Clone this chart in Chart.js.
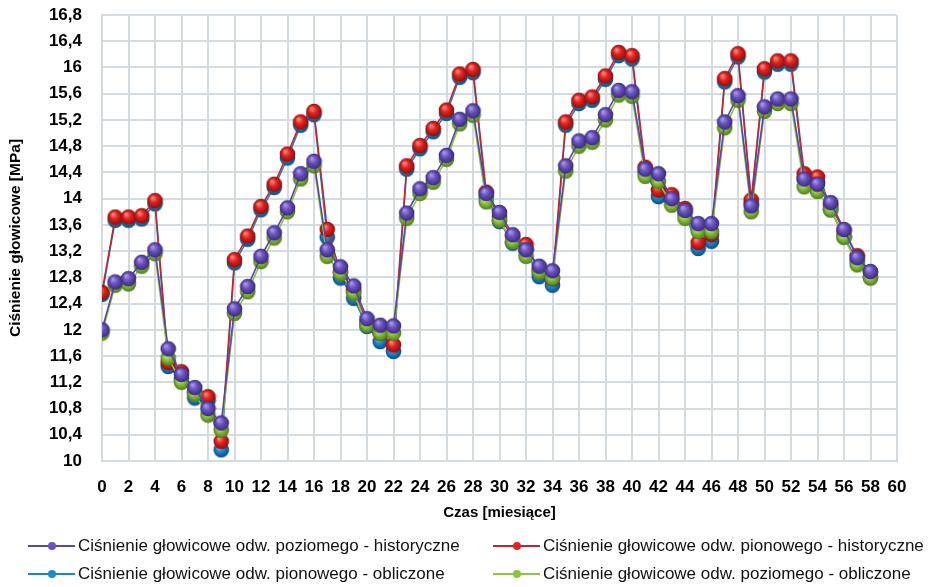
<!DOCTYPE html>
<html>
<head>
<meta charset="utf-8">
<script src="https://cdn.jsdelivr.net/npm/chart.js@4.4.1/dist/chart.umd.min.js"></script>
<style>
  body { margin: 0; background: #fff; }
  #wrap { position: relative; width: 937px; height: 587px; }
  #legend { position: absolute; left: 0; top: 0; width: 937px; height: 587px; pointer-events: none;
            font-family: 'Liberation Sans', Arial, sans-serif; font-size: 17px; color: #111; }
  .item { position: absolute; height: 20px; line-height: 20px; white-space: nowrap; }
  .mark { position: absolute; top: 9px; left: 0; width: 47px; height: 2px; }
  .dot { position: absolute; top: -3px; left: 20px; width: 8px; height: 8px; border-radius: 50%; }
  .txt { position: absolute; left: 50px; top: 0; }
</style>
</head>
<body>
<div id="wrap">
  <canvas id="chart" width="937" height="587"></canvas>
  <div id="legend"></div>
</div>
<script>
// miesiące (oś X)
const months = [0, 1, 2, 3, 4, 5, 6, 7, 8, 9, 10, 11, 12, 13, 14, 15, 16, 17, 18, 19,
  20, 21, 22, 23, 24, 25, 26, 27, 28, 29, 30, 31, 32, 33, 34, 35, 36, 37, 38, 39,
  40, 41, 42, 43, 44, 45, 46, 47, 48, 49, 50, 51, 52, 53, 54, 55, 56, 57, 58];

// odwiert poziomy - historyczne
const poziomyHist = [12.0, 12.73, 12.78, 13.03, 13.22, 11.71, 11.32, 11.12, 10.8, 10.58,
  12.32, 12.66, 13.12, 13.48, 13.86, 14.38, 14.57, 13.22, 12.96, 12.67,
  12.17, 12.07, 12.06, 13.78, 14.15, 14.32, 14.66, 15.21, 15.34, 14.08,
  13.79, 13.45, 13.22, 12.97, 12.9, 14.5, 14.88, 14.93, 15.28, 15.65,
  15.63, 14.45, 14.38, 14.0, 13.82, 13.62, 13.62, 15.17, 15.57, 13.89,
  15.4, 15.52, 15.52, 14.3, 14.22, 13.94, 13.53, 13.1, 12.89];

// odwiert pionowy - historyczne
const pionowyHist = [12.57, 13.72, 13.72, 13.74, 13.97, 11.5, 11.36, 11.05, 10.98, 10.3,
  13.07, 13.43, 13.88, 14.22, 14.68, 15.17, 15.33, 13.53, 12.88, 12.6,
  12.12, 11.95, 11.77, 14.5, 14.81, 15.07, 15.35, 15.9, 15.97, 14.1,
  13.72, 13.42, 13.3, 12.9, 12.78, 15.17, 15.5, 15.55, 15.87, 16.23,
  16.18, 14.48, 14.13, 14.06, 13.85, 13.33, 13.45, 15.83, 16.21, 13.98,
  15.98, 16.1, 16.1, 14.38, 14.33, 13.9, 13.5, 13.13, 12.87];

// odwiert pionowy - obliczone
const pionowyObl = [12.54, 13.67, 13.67, 13.69, 13.92, 11.44, 11.25, 10.96, 10.92, 10.17,
  13.02, 13.38, 13.83, 14.17, 14.62, 15.12, 15.28, 13.41, 12.79, 12.48,
  12.05, 11.82, 11.67, 14.45, 14.76, 15.02, 15.3, 15.85, 15.92, 14.03,
  13.65, 13.32, 13.22, 12.81, 12.68, 15.12, 15.45, 15.5, 15.82, 16.18,
  16.13, 14.4, 14.03, 13.98, 13.78, 13.24, 13.35, 15.78, 16.16, 13.92,
  15.93, 16.05, 16.05, 14.3, 14.25, 13.83, 13.42, 13.05, 12.8];

// odwiert poziomy - obliczone
const poziomyObl = [11.95, 12.68, 12.7, 12.97, 13.16, 11.57, 11.2, 11.02, 10.7, 10.47,
  12.25, 12.58, 13.04, 13.4, 13.8, 14.3, 14.5, 13.12, 12.86, 12.56,
  12.07, 11.95, 11.95, 13.7, 14.08, 14.25, 14.6, 15.14, 15.27, 13.95,
  13.67, 13.34, 13.12, 12.88, 12.79, 14.42, 14.8, 14.86, 15.2, 15.58,
  15.56, 14.34, 14.26, 13.9, 13.7, 13.5, 13.5, 15.08, 15.5, 13.8,
  15.33, 15.45, 15.45, 14.18, 14.11, 13.83, 13.41, 12.99, 12.79];

const seriesNames = [
  'Ciśnienie głowicowe odw. poziomego - historyczne',
  'Ciśnienie głowicowe odw. pionowego - historyczne',
  'Ciśnienie głowicowe odw. pionowego - obliczone',
  'Ciśnienie głowicowe odw. poziomego - obliczone'
];
const lineColors = ['#5a46a3', '#c0262e', '#1f84c4', '#8cc443'];
const ballColors = [
  ['#a99be6', '#6a52c0', '#3a2a7a'],
  ['#ff8a80', '#e3231f', '#8a1010'],
  ['#7cc8f2', '#1c88d0', '#0d4d7a'],
  ['#d2f09a', '#8cc43c', '#4f7a1c']
];

// kulka 3D jako obrazek znacznika
function makeBall(c) {
  const size = 17;
  const cv = document.createElement('canvas');
  cv.width = size;
  cv.height = size;
  const ctx = cv.getContext('2d');
  const r = 7.8;
  const g = ctx.createRadialGradient(6, 5.5, 0.5, 8.5, 8.5, r);
  g.addColorStop(0, c[0]);
  g.addColorStop(0.45, c[1]);
  g.addColorStop(1, c[2]);
  ctx.beginPath();
  ctx.arc(8.5, 8.5, r, 0, Math.PI * 2);
  ctx.fillStyle = g;
  ctx.fill();
  return cv;
}

function toPoints(values) {
  return months.map((m, i) => ({ x: m, y: values[i] }));
}

const allValues = [poziomyHist, pionowyHist, pionowyObl, poziomyObl];
const drawOrder = [0, 2, 3, 1]; // fiolet na wierzchu, potem zielony, czerwony, niebieski

const datasets = allValues.map((vals, i) => ({
  label: seriesNames[i],
  data: toPoints(vals),
  borderColor: lineColors[i],
  borderWidth: 1.6,
  pointStyle: makeBall(ballColors[i]),
  pointRadius: 8,
  order: drawOrder[i],
  tension: 0
}));

function fmtTick(v) {
  return String(Math.round(v * 10) / 10).replace('.', ',');
}

const gridColor = '#d3dbe1';
const fontFamily = "'Liberation Sans', Arial, sans-serif";

new Chart(document.getElementById('chart').getContext('2d'), {
  type: 'line',
  data: { datasets: datasets },
  options: {
    responsive: false,
    animation: false,
    devicePixelRatio: 1,
    layout: { padding: { left: 0, right: 40, top: 15, bottom: 56 } },
    plugins: { legend: { display: false }, tooltip: { enabled: false } },
    scales: {
      x: {
        type: 'linear',
        min: 0,
        max: 60,
        grid: { color: gridColor, lineWidth: 2, drawTicks: false },
        border: { color: gridColor, width: 2 },
        ticks: {
          stepSize: 2,
          autoSkip: false,
          maxRotation: 0,
          padding: 16,
          color: '#000',
          font: { family: fontFamily, size: 17, weight: 'bold' }
        },
        title: {
          display: true,
          text: 'Czas [miesiące]',
          color: '#000',
          padding: { top: 0, bottom: 9 },
          font: { family: fontFamily, size: 15, weight: 'bold' }
        },
        afterFit: (scale) => { scale.height = 70; }
      },
      y: {
        min: 10,
        max: 16.8,
        grid: { color: gridColor, lineWidth: 2, drawTicks: false },
        border: { color: gridColor, width: 2 },
        ticks: {
          stepSize: 0.4,
          padding: 20,
          color: '#000',
          callback: (v) => fmtTick(v),
          font: { family: fontFamily, size: 17, weight: 'bold' }
        },
        title: {
          display: true,
          text: 'Ciśnienie głowicowe [MPa]',
          color: '#000',
          padding: { top: 6, bottom: 0 },
          font: { family: fontFamily, size: 15.5, weight: 'bold' }
        },
        afterFit: (scale) => {
          scale.width = 102;
          scale.paddingTop = 0;
          scale.paddingBottom = 0;
        }
      }
    }
  }
});

// legenda w dwóch kolumnach
const legendPos = [[28, 536], [493, 536], [28, 564], [493, 564]];
const legendEl = document.getElementById('legend');
seriesNames.forEach((name, i) => {
  const item = document.createElement('div');
  item.className = 'item';
  item.style.left = legendPos[i][0] + 'px';
  item.style.top = legendPos[i][1] + 'px';
  item.innerHTML = `
    <div class="mark" style="background:${lineColors[i]}"><div class="dot" style="background:${ballColors[i][1]}"></div></div>
    <span class="txt">${name}</span>`;
  legendEl.appendChild(item);
});
</script>
</body>
</html>
